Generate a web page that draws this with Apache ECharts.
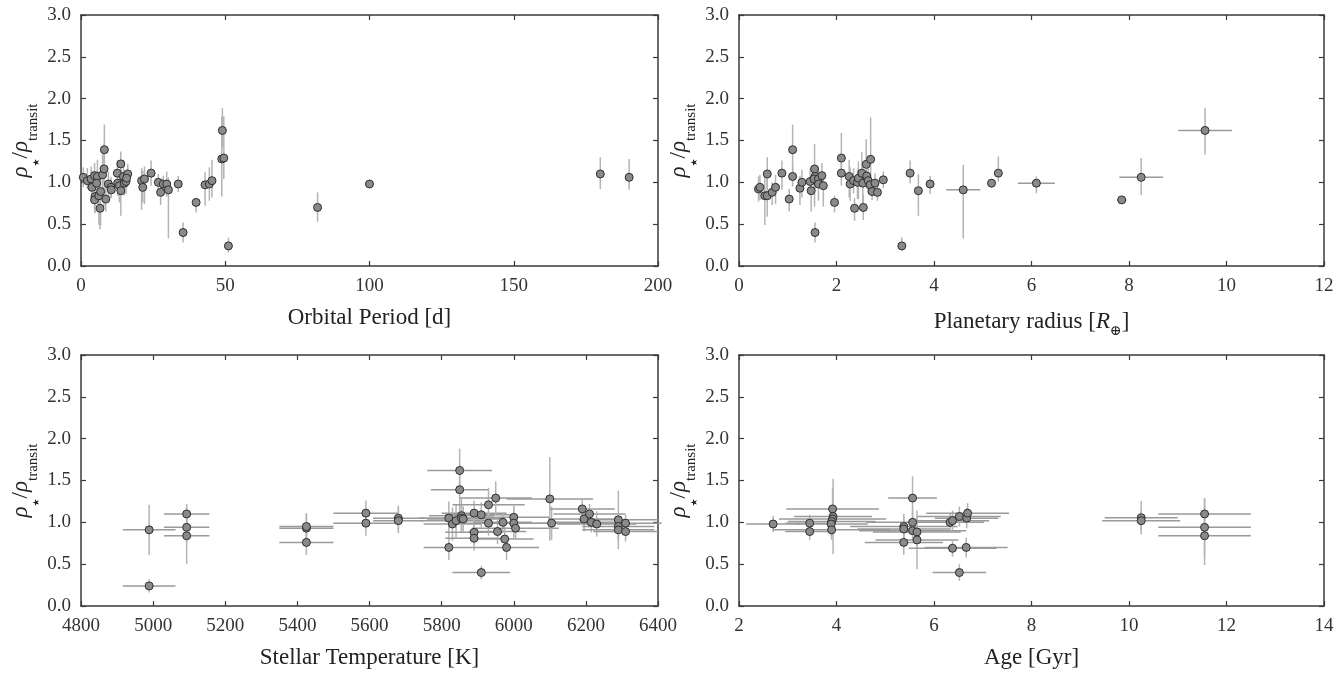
<!DOCTYPE html>
<html><head><meta charset="utf-8">
<script src="https://cdn.jsdelivr.net/npm/echarts@6/dist/echarts.min.js"></script>
<style>html,body{margin:0;padding:0;background:#fff}#c{width:1344px;height:673px}</style>
</head><body><div id="c"></div>
<script>
// ---------- Panel 1: Orbital period ----------
const periodDays  = [0.8,2.2,3.5,3.8,4.7,4.85,5.7,5.4,4.7,6.2,6.8,6.6,7.5,8.0,8.1,8.6,9.5,10.4,10.5,12.6,13.8,12.7,13.3,13.8,14.7,15.0,15.6,16.2,15.8,21.0,21.4,22.0,24.3,26.8,27.6,28.5,29.7,30.3,33.7,35.4,39.9,43.0,44.5,45.4,48.8,49.5,49.0,51.1,82,100,180,190];
const periodRatio = [1.06,1.02,1.04,0.94,1.08,0.83,1.07,0.99,0.79,0.84,0.89,0.69,1.09,1.16,1.39,0.80,0.98,0.94,0.91,1.11,1.22,0.99,0.96,0.90,1.07,0.99,1.01,1.10,1.05,1.02,0.94,1.04,1.11,1.00,0.88,0.98,0.98,0.91,0.98,0.40,0.76,0.97,0.98,1.02,1.28,1.29,1.62,0.24,0.70,0.98,1.10,1.06];
const periodErrLo = [0.12,0.10,0.15,0.12,0.20,0.20,0.25,0.20,0.15,0.35,0.40,0.25,0.30,0.45,0.30,0.15,0.15,0.12,0.10,0.15,0.20,0.15,0.20,0.30,0.20,0.15,0.15,0.15,0.12,0.35,0.18,0.30,0.15,0.15,0.15,0.12,0.15,0.58,0.10,0.12,0.12,0.25,0.20,0.20,0.45,0.25,0.20,0.08,0.17,0.05,0.18,0.15];
const periodErrHi = [0.12,0.15,0.15,0.20,0.15,0.20,0.20,0.15,0.20,0.25,0.30,0.20,0.25,0.30,0.30,0.20,0.15,0.12,0.10,0.15,0.15,0.15,0.15,0.25,0.20,0.15,0.12,0.12,0.10,0.15,0.20,0.15,0.15,0.10,0.10,0.10,0.15,0.15,0.10,0.12,0.05,0.15,0.20,0.25,0.50,0.50,0.27,0.10,0.18,0.05,0.20,0.22];

// ---------- Panel 2: Planetary radius ----------
const radiusRe    = [0.40,0.43,0.53,0.58,0.58,0.68,0.75,0.88,1.03,1.10,1.10,1.25,1.29,1.46,1.48,1.55,1.56,1.54,1.63,1.63,1.70,1.73,1.56,1.96,2.10,2.10,2.26,2.28,2.35,2.37,2.43,2.45,2.52,2.54,2.55,2.61,2.62,2.65,2.70,2.69,2.73,2.79,2.84,2.96,3.34,3.51,3.68,3.92,4.6,5.18,5.32,6.1,7.85,8.25,9.56];
const radiusRatio = [0.92,0.94,0.84,0.84,1.10,0.88,0.94,1.11,0.80,1.39,1.07,0.93,1.00,1.01,0.90,1.16,1.07,1.04,1.04,0.98,1.08,0.96,0.40,0.76,1.29,1.11,1.07,0.98,1.02,0.69,1.00,1.05,1.11,0.99,0.70,1.215,1.075,1.02,1.275,0.97,0.89,0.99,0.88,1.03,0.24,1.11,0.90,0.98,0.91,0.99,1.11,0.99,0.79,1.06,1.62];
const radiusErrX  = [0,0,0,0,0,0,0,0,0,0,0,0,0,0,0,0,0,0,0,0,0,0,0,0,0,0,0,0,0,0,0,0,0,0,0,0,0,0,0,0,0,0,0,0,0.08,0,0,0,0.35,0,0,0.38,0.1,0.45,0.55];
const radiusErrLo = [0.15,0.15,0.35,0.25,0.20,0.15,0.20,0.20,0.15,0.30,0.12,0.20,0.18,0.15,0.25,0.45,0.15,0.12,0.12,0.20,0.15,0.25,0.12,0.12,0.15,0.15,0.25,0.20,0.15,0.15,0.20,0.25,0.12,0.30,0.15,0.25,0.15,0.15,0.35,0.10,0.10,0.12,0.10,0.10,0.06,0.12,0.30,0.12,0.58,0.05,0.10,0.12,0.04,0.21,0.29];
const radiusErrHi = [0.15,0.15,0.25,0.25,0.20,0.12,0.15,0.15,0.12,0.30,0.12,0.15,0.15,0.15,0.20,0.30,0.12,0.12,0.12,0.15,0.15,0.15,0.12,0.08,0.30,0.15,0.20,0.20,0.15,0.12,0.15,0.20,0.25,0.20,0.15,0.30,0.15,0.15,0.50,0.10,0.10,0.12,0.10,0.10,0.10,0.15,0.20,0.10,0.30,0.05,0.20,0.08,0.04,0.23,0.27];

// ---------- Panel 3: Stellar temperature ----------
const teffK      = [4989,4989,5093,5093,5093,5425,5425,5425,5590,5590,5680,5680,5820,5820,5830,5840,5850,5850,5855,5855,5860,5890,5890,5890,5910,5910,5930,5930,5950,5955,5970,5975,5980,6000,6000,6005,6100,6105,6190,6195,6210,6215,6230,6290,6290,6290,6310,6310];
const teffRatio  = [0.91,0.24,1.10,0.94,0.84,0.93,0.95,0.76,1.11,0.99,1.05,1.02,1.05,0.70,0.98,1.02,1.62,1.39,1.08,1.05,1.04,1.11,0.88,0.81,1.09,0.40,1.21,0.99,1.29,0.89,1.00,0.80,0.70,1.06,0.99,0.93,1.28,0.99,1.16,1.04,1.10,1.00,0.98,1.03,0.95,0.91,0.99,0.89];
const teffErrX   = [73,73,63,63,63,75,75,75,90,90,70,70,80,70,80,100,90,80,90,120,100,90,80,80,100,80,100,90,100,80,80,80,90,100,110,120,120,100,90,100,100,100,110,110,100,100,100,90];
const teffErrY   = [0.30,0.08,0.12,0.18,0.34,0.18,0.15,0.15,0.15,0.15,0.15,0.15,0.20,0.15,0.20,0.20,0.26,0.30,0.20,0.15,0.15,0.15,0.15,0.15,0.15,0.08,0.20,0.15,0.20,0.15,0.12,0.15,0.15,0.15,0.20,0.12,0.50,0.20,0.12,0.15,0.12,0.12,0.15,0.35,0.15,0.12,0.10,0.12];

// ---------- Panel 4: Age ----------
const ageGyr    = [2.7,3.45,3.45,3.92,3.93,3.92,3.90,3.89,3.90,5.38,5.38,5.38,5.56,5.56,5.56,5.65,5.65,6.33,6.38,6.52,6.67,6.69,6.38,6.66,6.52,10.25,10.25,11.55,11.55,11.55];
const ageRatio  = [0.98,0.99,0.89,1.16,1.07,1.04,1.01,0.98,0.91,0.95,0.92,0.76,1.29,1.00,0.90,0.885,0.79,1.00,1.02,1.07,1.05,1.11,0.69,0.70,0.40,1.055,1.02,1.10,0.94,0.84];
const ageErrX   = [0.55,0.50,0.50,0.95,0.80,1.10,0.90,0.75,1.20,1.10,0.95,0.80,0.50,0.95,1.10,0.90,0.85,0.70,0.75,0.85,0.65,0.85,0.90,0.85,0.55,0.75,0.80,0.95,0.95,0.95];
const ageErrY   = [0.10,0.10,0.10,0.25,0.45,0.20,0.15,0.15,0.12,0.15,0.15,0.15,0.26,0.15,0.12,0.20,0.35,0.10,0.12,0.12,0.12,0.12,0.10,0.12,0.10,0.20,0.12,0.18,0.35,0.35];

const fontFam = '"Liberation Serif","DejaVu Serif",serif';

function build(xs, ys, xlo, xhi, ylo, yhi){
  return xs.map((x,i)=>[x, ys[i], x-(xlo?xlo[i]:0), x+(xhi?xhi[i]:0), ys[i]-ylo[i], ys[i]+yhi[i]]);
}
const d1 = build(periodDays, periodRatio, null, null, periodErrLo, periodErrHi);
const d2 = build(radiusRe, radiusRatio, radiusErrX, radiusErrX, radiusErrLo, radiusErrHi);
const d3 = build(teffK, teffRatio, teffErrX, teffErrX, teffErrY, teffErrY);
const d4 = build(ageGyr, ageRatio, ageErrX, ageErrX, ageErrY, ageErrY);

function renderErr(params, api){
  const y=api.value(1), xl=api.value(2), xh=api.value(3), yl=api.value(4), yh=api.value(5), x=api.value(0);
  const ch=[];
  if (xh>xl){ const a=api.coord([xl,y]), b=api.coord([xh,y]);
    ch.push({type:'line',shape:{x1:a[0],y1:a[1],x2:b[0],y2:b[1]},style:{stroke:'#9a9a9a',lineWidth:1.5}}); }
  if (yh>yl){ const a=api.coord([x,yl]), b=api.coord([x,yh]);
    ch.push({type:'line',shape:{x1:a[0],y1:a[1],x2:b[0],y2:b[1]},style:{stroke:'#b4b4b4',lineWidth:1.5}}); }
  return {type:'group',children:ch};
}

const grids = [
  {left:81, width:577, top:15, height:251},
  {left:739, width:585, top:15, height:251},
  {left:81, width:577, top:355, height:251},
  {left:739, width:585, top:355, height:251}
];
const xCfg = [
  {min:0,max:200,interval:50,name:'Orbital Period [d]'},
  {min:0,max:12,interval:2,name:'Planetary radius [{i|R}{s|⊕}]'},
  {min:4800,max:6400,interval:200,name:'Stellar Temperature [K]'},
  {min:2,max:14,interval:2,name:'Age [Gyr]'}
];
const datas=[d1,d2,d3,d4];
const lineStyle={color:'#3a3a3a',width:1.5};
const tick={inside:true,length:5,lineStyle:{color:'#3a3a3a',width:1.2}};
const richName = {
  i:{fontFamily:fontFam,fontStyle:'italic',fontSize:23,color:'#222'},
  s:{fontFamily:fontFam,fontSize:14,color:'#222',verticalAlign:'bottom',lineHeight:32},
  a:{fontFamily:fontFam,fontStyle:'italic',fontSize:23,color:'#222',verticalAlign:'top',lineHeight:24},
  st:{fontFamily:'"DejaVu Sans",sans-serif',fontSize:9,color:'#222',verticalAlign:'bottom',lineHeight:29},
  sl:{fontFamily:fontFam,fontSize:23,color:'#222',verticalAlign:'top',lineHeight:24},
  t:{fontFamily:fontFam,fontSize:15,color:'#222',verticalAlign:'bottom',lineHeight:32}
};
const xAxis=[], yAxis=[], series=[];
grids.forEach((g,i)=>{
  xAxis.push({gridIndex:i,type:'value',min:xCfg[i].min,max:xCfg[i].max,interval:xCfg[i].interval,position:'bottom',
    name:xCfg[i].name,nameLocation:'middle',nameGap:40,
    nameTextStyle:{fontFamily:fontFam,fontSize:23,color:'#222',rich:richName},
    axisLine:{show:true,onZero:false,lineStyle},axisTick:tick,splitLine:{show:false},
    axisLabel:{fontFamily:fontFam,fontSize:19,color:'#333',margin:11,formatter:v=>String(v)}});
  xAxis.push({gridIndex:i,type:'value',min:xCfg[i].min,max:xCfg[i].max,interval:xCfg[i].interval,position:'top',
    axisLine:{show:true,onZero:false,lineStyle},axisTick:tick,splitLine:{show:false},axisLabel:{show:false}});
  yAxis.push({gridIndex:i,type:'value',min:0,max:3,interval:0.5,position:'left',
    name:'{a|ρ}{st|★}{sl|/}{a|ρ}{t|transit}',nameLocation:'middle',nameGap:40,nameRotate:90,
    nameTextStyle:{rich:richName},
    axisLine:{show:true,onZero:false,lineStyle},axisTick:tick,splitLine:{show:false},
    axisLabel:{fontFamily:fontFam,fontSize:19,color:'#333',margin:10,formatter:v=>v.toFixed(1)}});
  yAxis.push({gridIndex:i,type:'value',min:0,max:3,interval:0.5,position:'right',
    axisLine:{show:true,onZero:false,lineStyle},axisTick:tick,splitLine:{show:false},axisLabel:{show:false}});
  series.push({type:'custom',xAxisIndex:2*i,yAxisIndex:2*i,renderItem:renderErr,data:datas[i],
    encode:{x:0,y:1},z:1,silent:true,clip:false});
  series.push({type:'scatter',xAxisIndex:2*i,yAxisIndex:2*i,data:datas[i].map(r=>[r[0],r[1]]),
    symbol:'circle',symbolSize:8,itemStyle:{color:'#8a8a8a',borderColor:'#2e2e2e',borderWidth:1,opacity:1},z:3,silent:true});
});
const chart=echarts.init(document.getElementById('c'),null,{renderer:'canvas'});
chart.setOption({animation:false,backgroundColor:'#fff',grid:grids,xAxis,yAxis,series});
</script></body></html>
